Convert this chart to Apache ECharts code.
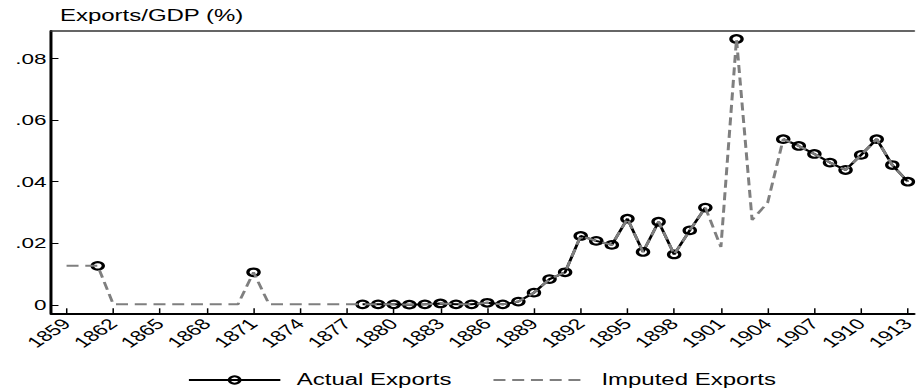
<!DOCTYPE html>
<html>
<head>
<meta charset="utf-8">
<script src="https://cdn.jsdelivr.net/npm/echarts@6/dist/echarts.min.js"></script>
<style>
  html, body { margin: 0; padding: 0; background: #fff; overflow: hidden; width: 919px; height: 388px; }
  /* the chart is laid out narrow and stretched horizontally, like the exported graph */
  #chart { width: 613px; height: 388px; transform: scaleX(1.4992); transform-origin: 0 0; }
</style>
</head>
<body>
<div id="chart"></div>
<script>
// Years on the horizontal axis
const years = [
  1859, 1860, 1861, 1862, 1863, 1864, 1865, 1866, 1867, 1868,
  1869, 1870, 1871, 1872, 1873, 1874, 1875, 1876, 1877, 1878,
  1879, 1880, 1881, 1882, 1883, 1884, 1885, 1886, 1887, 1888,
  1889, 1890, 1891, 1892, 1893, 1894, 1895, 1896, 1897, 1898,
  1899, 1900, 1901, 1902, 1903, 1904, 1905, 1906, 1907, 1908,
  1909, 1910, 1911, 1912, 1913
];

// Observed exports/GDP ratio (null where no observation exists)
const actualExports = [
  null, null, 0.0127, null, null, null, null, null, null, null,
  null, null, 0.0106, null, null, null, null, null, null, 0.0002,
  0.0002, 0.0002, 0.0001, 0.0002, 0.0005, 0.0002, 0.0002, 0.0007, 0.0002, 0.0011,
  0.0040, 0.0084, 0.0106, 0.0224, 0.0208, 0.0195, 0.0280, 0.0172, 0.0270, 0.0164,
  0.0242, 0.0316, null, 0.0863, null, null, 0.0538, 0.0516, 0.0490, 0.0462,
  0.0438, 0.0487, 0.0538, 0.0454, 0.0400
];

// Full series including imputed years
const imputedExports = [
  0.0127, 0.0127, 0.0127, 0.0002, 0.0002, 0.0002, 0.0002, 0.0002, 0.0002, 0.0002,
  0.0002, 0.0002, 0.0106, 0.0002, 0.0002, 0.0002, 0.0002, 0.0002, 0.0002, 0.0002,
  0.0002, 0.0002, 0.0001, 0.0002, 0.0005, 0.0002, 0.0002, 0.0007, 0.0002, 0.0011,
  0.0040, 0.0084, 0.0106, 0.0224, 0.0208, 0.0195, 0.0280, 0.0172, 0.0270, 0.0164,
  0.0242, 0.0316, 0.0188, 0.0863, 0.0276, 0.0332, 0.0538, 0.0516, 0.0490, 0.0462,
  0.0438, 0.0487, 0.0538, 0.0454, 0.0400
];

// Tick positions
const yearTicks = [1859, 1862, 1865, 1868, 1871, 1874, 1877, 1880, 1883, 1886,
                   1889, 1892, 1895, 1898, 1901, 1904, 1907, 1910, 1913];
const shareTicks = [0, 0.02, 0.04, 0.06, 0.08];

const FONT = "'Liberation Sans', Arial, Helvetica, sans-serif";

const pairs = (vals) => years.map((y, i) => [y, vals[i]]);

const chart = echarts.init(document.getElementById('chart'), null, { renderer: 'svg' });

chart.setOption({
  animation: false,
  backgroundColor: '#fff',
  textStyle: { fontFamily: FONT },
  title: {
    text: 'Exports/GDP (%)',
    left: 40,
    top: 7,
    padding: 0,
    textStyle: { fontFamily: FONT, fontSize: 16, fontWeight: 'normal', color: '#000' }
  },
  grid: { left: 34, right: 0, top: 31, bottom: 74.7, containLabel: false },
  xAxis: [
    {
      type: 'value',
      min: 1858,
      max: 1913.4,
      position: 'bottom',
      splitLine: { show: false },
      axisLine: { show: true, onZero: false, lineStyle: { color: '#000', width: 2 } },
      axisTick: { show: true, inside: true, length: 5, customValues: yearTicks,
                  lineStyle: { color: '#000', width: 1 } },
      axisLabel: { show: true, customValues: yearTicks, rotate: 45, margin: 8,
                   fontFamily: FONT, fontSize: 15, color: '#000',
                   formatter: (v) => String(v) }
    },
    {
      type: 'value',
      min: 1858,
      max: 1913.4,
      position: 'top',
      splitLine: { show: false },
      axisLine: { show: true, onZero: false, lineStyle: { color: '#333', width: 1.5 } },
      axisTick: { show: false },
      axisLabel: { show: false }
    }
  ],
  yAxis: {
    type: 'value',
    min: -0.0027,
    max: 0.0889,
    splitLine: { show: false },
    axisLine: { show: true, onZero: false, lineStyle: { color: '#000', width: 2 } },
    axisTick: { show: true, inside: true, length: 5, customValues: shareTicks,
                lineStyle: { color: '#000', width: 1 } },
    axisLabel: {
      show: true, customValues: shareTicks, margin: 3,
      fontFamily: FONT, fontSize: 15, color: '#000',
      formatter: (v) => (Math.abs(v) < 1e-9 ? '0' : v.toFixed(2).replace(/^0/, ''))
    }
  },
  legend: {
    left: 125,
    top: 372,
    padding: 0,
    itemWidth: 61,
    itemHeight: 9,
    itemGap: 27,
    textStyle: { fontFamily: FONT, fontSize: 16, color: '#000', padding: [0, 0, 0, 6] },
    data: [
      { name: 'Actual Exports' },
      { name: 'Imputed Exports', itemStyle: { color: 'transparent', borderColor: 'transparent', borderWidth: 0, opacity: 0 } }
    ]
  },
  series: [
    {
      name: 'Actual Exports',
      type: 'line',
      data: pairs(actualExports),
      connectNulls: false,
      symbol: 'circle',
      symbolSize: 7.5,
      showAllSymbol: true,
      z: 2,
      itemStyle: { color: 'rgba(255,255,255,0)', borderColor: '#000', borderWidth: 2.2 },
      lineStyle: { color: '#000', width: 2 },
      emphasis: { disabled: true }
    },
    {
      name: 'Imputed Exports',
      type: 'line',
      data: pairs(imputedExports),
      symbol: 'none',
      z: 3,
      itemStyle: { color: '#7f7f7f' },
      lineStyle: { color: '#7f7f7f', width: 2, type: [8, 4.5] },
      emphasis: { disabled: true }
    }
  ]
});
</script>
</body>
</html>
